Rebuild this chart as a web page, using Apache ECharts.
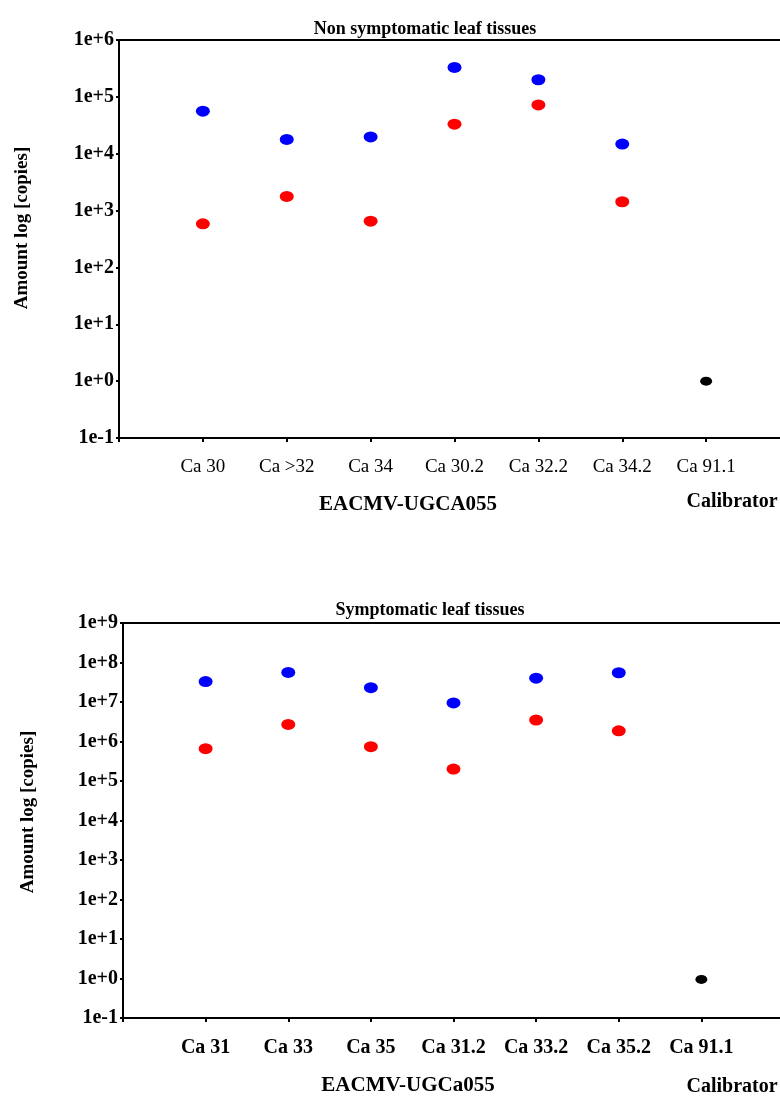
<!DOCTYPE html>
<html>
<head>
<meta charset="utf-8">
<script src="https://cdn.jsdelivr.net/npm/echarts@6/dist/echarts.min.js"></script>
<style>html,body{margin:0;padding:0;background:#fff;}#c{width:780px;height:1097px;}</style>
</head>
<body>
<div id="c"></div>
<script>
// Top panel: Non symptomatic leaf tissues
var topCategories = ['', 'Ca 30', 'Ca >32', 'Ca 34', 'Ca 30.2', 'Ca 32.2', 'Ca 34.2', 'Ca 91.1', ' '];
var topSamples = ['Ca 30', 'Ca >32', 'Ca 34', 'Ca 30.2', 'Ca 32.2', 'Ca 34.2'];
var topBlue = [56000, 17800, 19700, 330000, 200000, 14800];
var topRed = [585, 1770, 650, 33000, 72000, 1430];
var topCalibrator = ['Ca 91.1', 1];

// Bottom panel: Symptomatic leaf tissues
var botCategories = ['', 'Ca 31', 'Ca 33', 'Ca 35', 'Ca 31.2', 'Ca 33.2', 'Ca 35.2', 'Ca 91.1', ' '];
var botSamples = ['Ca 31', 'Ca 33', 'Ca 35', 'Ca 31.2', 'Ca 33.2', 'Ca 35.2'];
var botBlue = [33000000, 56000000, 23000000, 9500000, 40000000, 55000000];
var botRed = [660000, 2700000, 740000, 200000, 3500000, 1860000];
var botCalibrator = ['Ca 91.1', 0.95];

var topYMin = 0.1, topYMax = 1e6;
var botYMin = 0.1, botYMax = 1e9;

function pairs(names, vals) { return names.map(function (n, i) { return [n, vals[i]]; }); }
function fmt(v) {
  var e = Math.round(Math.log10(v));
  return '1e' + (e >= 0 ? '+' : '') + e;
}

var serif = '"Liberation Serif", "DejaVu Serif", serif';
var chart = echarts.init(document.getElementById('c'), null, { renderer: 'canvas' });

function yAxis(grid, mn, mx) {
  return {
    type: 'log', logBase: 10, gridIndex: grid, min: mn, max: mx, interval: 1,
    axisLine: { show: true, lineStyle: { color: '#000', width: 2 } },
    axisTick: { show: true, inside: false, length: 3, lineStyle: { color: '#000', width: 2 } },
    axisLabel: { formatter: fmt, color: '#000', fontFamily: serif, fontWeight: 'bold', fontSize: 20, margin: 5 },
    splitLine: { show: false }
  };
}
function xAxis(grid, cats, bold, margin) {
  return {
    type: 'category', gridIndex: grid, data: cats, boundaryGap: false,
    axisLine: { show: true, lineStyle: { color: '#000', width: 2 } },
    axisTick: { show: true, alignWithLabel: true, length: 4, lineStyle: { color: '#000', width: 2 } },
    axisLabel: { color: '#000', fontFamily: serif, fontWeight: bold ? 'bold' : 'normal', fontSize: bold ? 20 : 19, margin: margin, interval: 0 },
    splitLine: { show: false }
  };
}
function dot(name, x, y, data, color, size) {
  return {
    name: name, type: 'scatter', xAxisIndex: x, yAxisIndex: y, data: data,
    symbol: 'circle', symbolSize: size, itemStyle: { color: color, opacity: 1 }, z: 5
  };
}
function txt(x, y, s, size, rot) {
  return { type: 'text', x: x, y: y, rotation: rot || 0,
    style: { text: s, fill: '#000', font: 'bold ' + size + 'px ' + serif, textAlign: 'center', textVerticalAlign: 'middle' } };
}

chart.setOption({
  animation: false,
  backgroundColor: '#fff',
  grid: [
    { left: 119, top: 40, width: 671, height: 398, outerBoundsMode: 'none', containLabel: false,
      show: true, borderColor: '#000', borderWidth: 2, backgroundColor: 'transparent' },
    { left: 123, top: 623, width: 661, height: 395, outerBoundsMode: 'none', containLabel: false,
      show: true, borderColor: '#000', borderWidth: 2, backgroundColor: 'transparent' }
  ],
  title: [
    { text: 'Non symptomatic leaf tissues', left: 420, top: 15, textAlign: 'center',
      textStyle: { fontFamily: serif, fontWeight: 'bold', fontSize: 18, color: '#000' } },
    { text: 'Symptomatic leaf tissues', left: 425, top: 596, textAlign: 'center',
      textStyle: { fontFamily: serif, fontWeight: 'bold', fontSize: 18, color: '#000' } }
  ],
  graphic: [
    txt(22, 228, 'Amount log [copies]', 19, Math.PI / 2),
    txt(28, 812, 'Amount log [copies]', 19, Math.PI / 2),
    txt(408, 505, 'EACMV-UGCA055', 21),
    txt(732, 502, 'Calibrator', 20),
    txt(408, 1086, 'EACMV-UGCa055', 21),
    txt(732, 1087, 'Calibrator', 20)
  ],
  xAxis: [xAxis(0, topCategories, false, 20), xAxis(1, botCategories, true, 20)],
  yAxis: [yAxis(0, topYMin, topYMax), yAxis(1, botYMin, botYMax)],
  series: [
    dot('top blue', 0, 0, pairs(topSamples, topBlue), '#0000ff', [14, 11]),
    dot('top red', 0, 0, pairs(topSamples, topRed), '#ff0000', [14, 11]),
    dot('top calibrator', 0, 0, [topCalibrator], '#000000', [12, 9]),
    dot('bot blue', 1, 1, pairs(botSamples, botBlue), '#0000ff', [14, 11]),
    dot('bot red', 1, 1, pairs(botSamples, botRed), '#ff0000', [14, 11]),
    dot('bot calibrator', 1, 1, [botCalibrator], '#000000', [12, 9])
  ]
});
</script>
</body>
</html>
